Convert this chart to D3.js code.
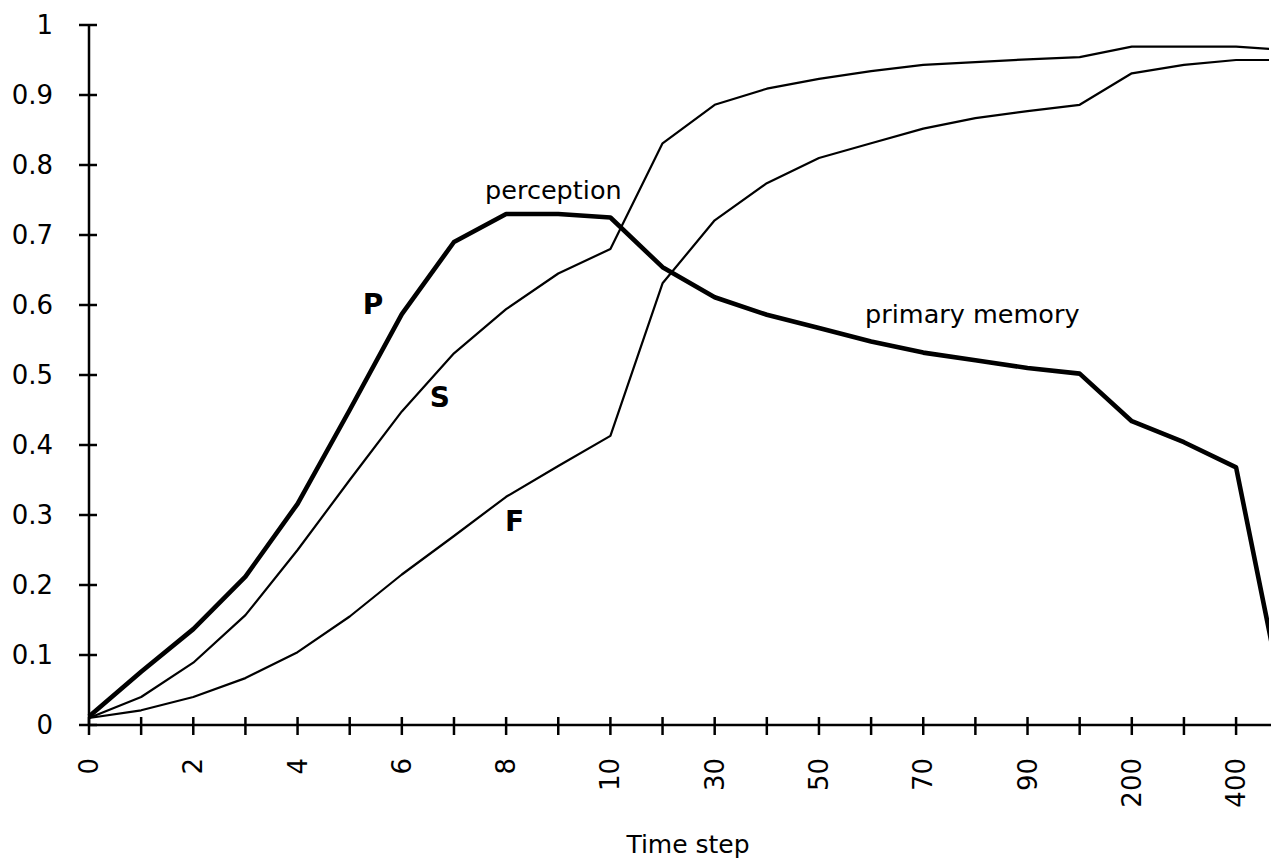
<!DOCTYPE html>
<html>
<head>
<meta charset="utf-8">
<script src="https://cdn.jsdelivr.net/npm/d3@7"></script>
<style>
  html, body { margin: 0; padding: 0; background: #fff; }
  svg { display: block; }
  text { font-family: "DejaVu Sans", Verdana, sans-serif; fill: #000; }
</style>
</head>
<body>
<svg id="chart" width="1280" height="859"></svg>
<script>
// ---- data ----
const categories = ["0","1","2","3","4","5","6","7","8","9","10",
  "20","30","40","50","60","70","80","90","100","200","300","400","500"];
const tickLabels = ["0","2","4","6","8","10","30","50","70","90","200","400"];
const yTicks = [0, 0.1, 0.2, 0.3, 0.4, 0.5, 0.6, 0.7, 0.8, 0.9, 1];

// P : perception / primary memory (thick line)
const seriesP = [0.012, 0.076, 0.137, 0.212, 0.316, 0.45, 0.587, 0.69, 0.73, 0.73, 0.725,
  0.654, 0.611, 0.586, 0.567, 0.548, 0.532, 0.521, 0.51, 0.502, 0.434, 0.404, 0.368, 0.0];
// S
const seriesS = [0.01, 0.04, 0.089, 0.157, 0.25, 0.35, 0.448, 0.531, 0.594, 0.645, 0.68,
  0.831, 0.886, 0.909, 0.923, 0.934, 0.943, 0.947, 0.951, 0.954, 0.969, 0.969, 0.969, 0.964];
// F
const seriesF = [0.01, 0.021, 0.04, 0.067, 0.104, 0.155, 0.215, 0.27, 0.326, 0.37, 0.413,
  0.631, 0.721, 0.774, 0.81, 0.831, 0.852, 0.867, 0.877, 0.886, 0.931, 0.943, 0.95, 0.95];

// annotation anchors (category, value)
const seriesLabels = [
  { text: "P", cat: "5", value: 0.587 },
  { text: "S", cat: "6", value: 0.454 },
  { text: "F", cat: "8", value: 0.277 }
];
const noteLabels = [
  { text: "perception", cat: "8", value: 0.751 },
  { text: "primary memory", cat: "60", value: 0.574 }
];
const xTitle = "Time step";

// ---- layout ----
const svg = d3.select("#chart");
const x0 = 89, step = 52.14, xEnd = 1271;
const x = d3.scalePoint().domain(categories).range([x0, x0 + step * (categories.length - 1)]);
const y = d3.scaleLinear().domain([0, 1]).range([725, 25]);

svg.append("defs").append("clipPath").attr("id", "plotclip")
  .append("rect").attr("x", 0).attr("y", 0).attr("width", xEnd - 2).attr("height", 859);

// lines
const line = d3.line().x((d, i) => x(categories[i])).y(d => y(d));
const plot = svg.append("g").attr("clip-path", "url(#plotclip)");
[seriesF, seriesS].forEach(s => {
  plot.append("path").datum(s).attr("d", line)
    .attr("fill", "none").attr("stroke", "#000").attr("stroke-width", 2.2).attr("stroke-linejoin", "round");
});
plot.append("path").datum(seriesP).attr("d", line)
  .attr("fill", "none").attr("stroke", "#000").attr("stroke-width", 4.6).attr("stroke-linejoin", "round");

// y axis
const yAxis = svg.append("g");
yAxis.append("line").attr("x1", x0).attr("x2", x0).attr("y1", y(1)).attr("y2", y(0))
  .attr("stroke", "#000").attr("stroke-width", 2.5);
yAxis.selectAll("line.tick").data(yTicks).join("line").attr("class", "tick")
  .attr("x1", x0 - 10).attr("x2", x0 + 8).attr("y1", d => y(d)).attr("y2", d => y(d))
  .attr("stroke", "#000").attr("stroke-width", 2.5);
yAxis.selectAll("text").data(yTicks).join("text")
  .attr("x", 53).attr("y", d => y(d)).attr("text-anchor", "end")
  .attr("dominant-baseline", "central").attr("font-size", 26)
  .text(d => d === 0 ? "0" : d === 1 ? "1" : d3.format(".1f")(d));

// x axis
const xAxis = svg.append("g");
xAxis.append("line").attr("x1", x0).attr("x2", xEnd).attr("y1", y(0)).attr("y2", y(0))
  .attr("stroke", "#000").attr("stroke-width", 2.5);
const tickCats = categories.filter(c => x(c) <= xEnd);
xAxis.selectAll("line.tick").data(tickCats).join("line").attr("class", "tick")
  .attr("x1", d => x(d)).attr("x2", d => x(d)).attr("y1", y(0) - 8).attr("y2", y(0) + 10)
  .attr("stroke", "#000").attr("stroke-width", 2.5);
xAxis.selectAll("text").data(tickLabels).join("text")
  .attr("transform", d => `translate(${x(d)},758) rotate(-90)`)
  .attr("text-anchor", "end").attr("dominant-baseline", "central")
  .attr("font-size", 26).text(d => d);

svg.append("text").attr("x", 688).attr("y", 853).attr("text-anchor", "middle")
  .attr("font-size", 25).text(xTitle);

// annotations
const seriesDx = { P: 13, S: 28, F: -1 };
svg.selectAll("text.series").data(seriesLabels).join("text").attr("class", "series")
  .attr("x", d => x(d.cat) + seriesDx[d.text]).attr("y", d => y(d.value))
  .attr("text-anchor", "start").attr("font-size", 28).attr("font-weight", "bold")
  .text(d => d.text);
const noteDx = { "perception": -21, "primary memory": -6 };
svg.selectAll("text.note").data(noteLabels).join("text").attr("class", "note")
  .attr("x", d => x(d.cat) + noteDx[d.text]).attr("y", d => y(d.value))
  .attr("text-anchor", "start").attr("font-size", 25.5)
  .text(d => d.text);
</script>
</body>
</html>
